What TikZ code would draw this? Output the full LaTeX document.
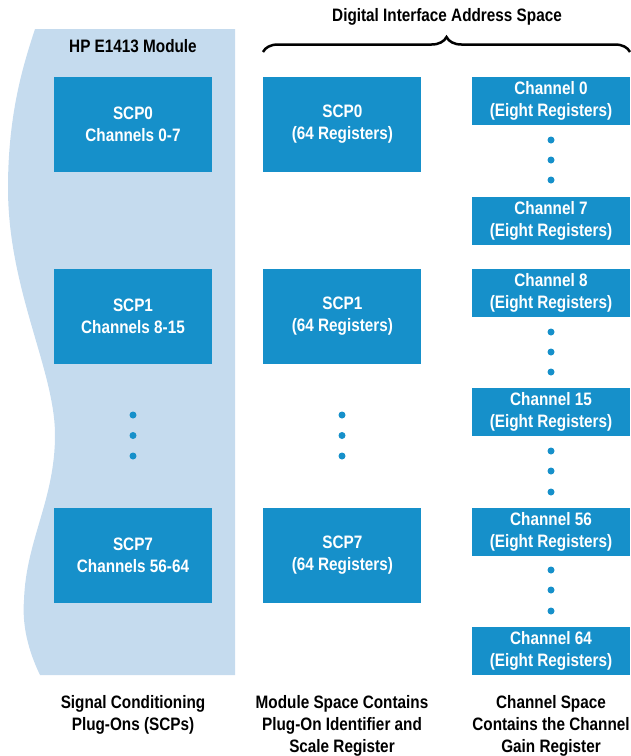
\documentclass[tikz,border=0pt]{standalone}
\usepackage{fontspec}
\setmainfont[FakeStretch=0.85]{Liberation Sans}
\usetikzlibrary{positioning, decorations.pathreplacing}
\definecolor{boxblue}{RGB}{22,144,202}
\definecolor{modblue}{RGB}{197,219,238}
\tikzstyle{scpbox} = [rectangle, minimum width=158pt, minimum height=95pt, inner sep=0pt, text centered, align=center, fill=boxblue, text=white, font=\bfseries\fontsize{18}{22}\selectfont]
\tikzstyle{chanbox} = [scpbox, minimum height=48pt]
\tikzstyle{regdot} = [circle, fill=boxblue, inner sep=0pt, minimum size=7pt]
\tikzstyle{capt} = [align=center, font=\bfseries\fontsize{18}{22}\selectfont]
\tikzstyle{addrbrace} = [decorate, decoration={brace, amplitude=15pt}, line width=2.5pt]

\begin{document}
\begin{tikzpicture}[x=1pt, y=-1pt]
\useasboundingbox (0,0) rectangle (631,756);
% module outline
\fill[modblue] (35,29) -- (235,29) -- (235,675) -- (40,675)
  .. controls (28,650) and (22,625) .. (24,600)
  .. controls (26,540) and (55,500) .. (55,435)
  .. controls (55,370) and (8,290) .. (8,188)
  .. controls (8,110) and (25,60) .. (35,29);
\node (modtitle) [capt] at (133,46) {HP E1413 Module};

\node (scp0) [scpbox] at (133,124.5) {SCP0\\Channels 0-7};
\node (scp1) [scpbox] at (133,316.5) {SCP1\\Channels 8-15};
\node (scp7) [scpbox] at (133,555.5) {SCP7\\Channels 56-64};

\node (mod0) [scpbox, right=51pt of scp0] {SCP0\\(64 Registers)};
\node (mod1) [scpbox, right=51pt of scp1] {SCP1\\(64 Registers)};
\node (mod7) [scpbox, right=51pt of scp7] {SCP7\\(64 Registers)};

\node (chan0) [chanbox] at (551,101) {Channel 0\\(Eight Registers)};
\node (chan7) [chanbox] at (551,221) {Channel 7\\(Eight Registers)};
\node (chan8) [chanbox] at (551,292.5) {Channel 8\\(Eight Registers)};
\node (chan15) [chanbox] at (551,412) {Channel 15\\(Eight Registers)};
\node (chan56) [chanbox] at (551,531.5) {Channel 56\\(Eight Registers)};
\node (chan64) [chanbox] at (551,651) {Channel 64\\(Eight Registers)};

% dots
\foreach \y [count=\i] in {415,435.5,456} {
  \node (scpdot\i) [regdot] at (133,\y) {};
  \node (moddot\i) [regdot] at (342,\y) {};
}
\foreach \y [count=\i] in {140,160,180,332,352,372,451,471,492,570,590,611}
  \node (chandot\i) [regdot] at (551,\y) {};

% address space
\coordinate (bracel) at (263,52);
\coordinate (bracer) at (630,52);
\draw [addrbrace] (bracel) -- (bracer);
\node (addrtitle) [capt] at (447,17) {Digital Interface Address Space};

\node (scpcapt) [capt] at (133,715) {Signal Conditioning\\Plug-Ons (SCPs)};
\node (modcapt) [capt] at (342,726) {Module Space Contains\\Plug-On Identifier and\\Scale Register};
\node (chancapt) [capt] at (551,726) {Channel Space\\Contains the Channel\\Gain Register};
\end{tikzpicture}
\end{document}
